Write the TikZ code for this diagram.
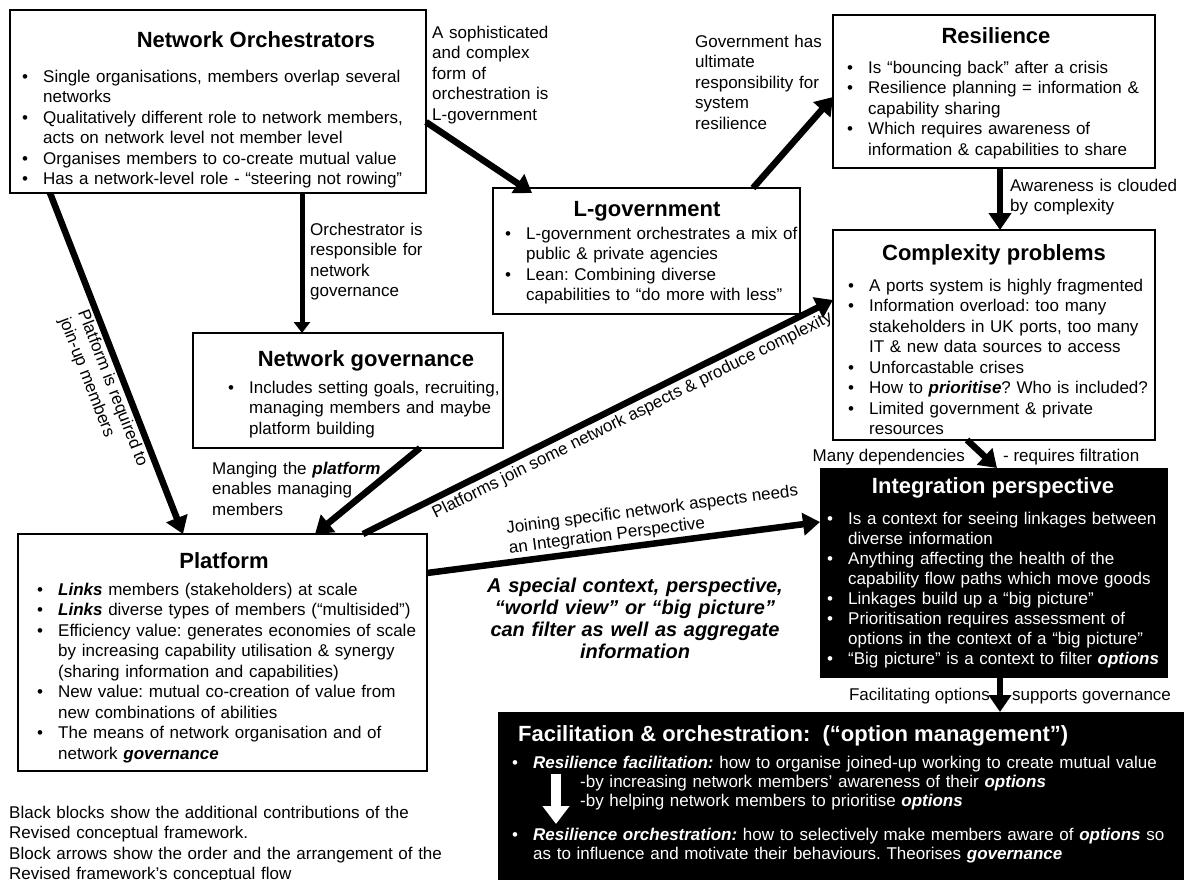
\documentclass[tikz,border=0pt]{standalone}
\usepackage{fontspec}
\setmainfont{Liberation Sans}
\usetikzlibrary{arrows.meta,calc}
\newcommand{\bi}[1]{\hangindent=21pt\hangafter=1\noindent\makebox[21pt][l]{\textbullet}#1\par}
\newcommand{\nl}{\hfil\break}
\newcommand{\bfit}[1]{\textbf{\textit{#1}}}
\frenchspacing
\begin{document}
\begin{tikzpicture}[x=1pt,y=-1pt,
  box/.style={draw=black, line width=1.3pt, fill=white, anchor=north west, inner sep=0pt, outer sep=0pt},
  blkbox/.style={draw=black, fill=black, anchor=north west, inner sep=0pt, outer sep=0pt},
  ttl/.style={font=\fontsize{22}{26}\selectfont\bfseries, anchor=base, inner sep=0pt},
  lst/.style={anchor=base west, inner sep=0pt, text width=700pt, font=\fontsize{17}{20.5}\selectfont},
  lbl/.style={anchor=base west, inner sep=0pt, text width=300pt, align=left, font=\fontsize{17}{20.5}\selectfont},
  slbl/.style={font=\fontsize{17}{20}\selectfont, inner sep=2pt},
  arr/.style={line width=6.5pt, -{Triangle[length=17pt,width=22pt]}},
  arrs/.style={line width=5pt, -{Triangle[length=11pt,width=16pt]}},
  warr/.style={draw=white, line width=10pt, -{Triangle[length=18pt,width=26pt]}}
]
\useasboundingbox (0,0) rectangle (1184,879);
\clip (0,0) rectangle (1184,879);
\fill[white] (0,0) rectangle (1184,879);

% boxes
\node[box, minimum width=416pt, minimum height=183pt] (no) at (10,10) {};
\node[box, minimum width=409pt, minimum height=237pt] (plat) at (18,534) {};
\node[box, minimum width=310pt, minimum height=115pt] (ng) at (193,333) {};
\node[box, minimum width=307pt, minimum height=126pt] (lg) at (493,188) {};
\node[box, minimum width=322pt, minimum height=153pt] (res) at (833,15) {};
\node[box, minimum width=322pt, minimum height=210pt] (comp) at (833,230) {};
\node[blkbox, minimum width=347pt, minimum height=209pt] (int) at (820,468) {};
\node[blkbox, minimum width=700pt, minimum height=180pt] (fac) at (498,712) {};

% Network Orchestrators
\node[ttl] (noT) at (256,47) {Network Orchestrators};
\node[lst] (noL) at (22,82) {\bi{Single organisations, members overlap several\nl networks}
\bi{Qualitatively different role to network members,\nl acts on network level not member level}
\bi{Organises members to co-create mutual value}
\bi{Has a network-level role - “steering not rowing”}};

% Resilience
\node[ttl] (resT) at (996,43) {Resilience};
\node[lst] (resL) at (847,73) {\bi{Is “bouncing back” after a crisis}
\bi{Resilience planning = information \&\nl capability sharing}
\bi{Which requires awareness of\nl information \& capabilities to share}};

% L-government
\node[ttl] (lgT) at (647,216) {L-government};
\node[lst] (lgL) at (505,239) {\bi{L-government orchestrates a mix of\nl public \& private agencies}
\bi{Lean: Combining diverse\nl capabilities to “do more with less”}};

% Complexity
\node[ttl] (compT) at (994,260) {Complexity problems};
\node[lst] (compL) at (848,291) {\bi{A ports system is highly fragmented}
\bi{Information overload: too many\nl stakeholders in UK ports, too many\nl IT \& new data sources to access}
\bi{Unforcastable crises}
\bi{How to \bfit{prioritise}? Who is included?}
\bi{Limited government \& private\nl resources}};

% Network governance
\node[ttl] (ngT) at (366,366) {Network governance};
\node[lst] (ngL) at (228,393) {\bi{Includes setting goals, recruiting,\nl managing members and maybe\nl platform building}};

% Platform
\node[ttl] (platT) at (224,568) {Platform};
\node[lst] (platL) at (37,595) {\bi{\bfit{Links} members (stakeholders) at scale}
\bi{\bfit{Links} diverse types of members (“multisided”)}
\bi{Efficiency value: generates economies of scale\nl by increasing capability utilisation \& synergy\nl (sharing information and capabilities)}
\bi{New value: mutual co-creation of value from\nl new combinations of abilities}
\bi{The means of network organisation and of\nl network \bfit{governance}}};

% Integration perspective
\node[ttl, text=white] (intT) at (993,493) {Integration perspective};
\node[lst, text=white, font=\fontsize{17}{20}\selectfont] (intL) at (827,524) {\bi{Is a context for seeing linkages between\nl diverse information}
\bi{Anything affecting the health of the\nl capability flow paths which move goods}
\bi{Linkages build up a “big picture”}
\bi{Prioritisation requires assessment of\nl options in the context of a “big picture”}
\bi{“Big picture” is a context to filter \bfit{options}}};

% Facilitation
\node[ttl, anchor=base west, text=white] (facT) at (518,741) {Facilitation \& orchestration:\ \ (“option management”)};
\node[lst, text=white, font=\fontsize{17}{19}\selectfont] (facL1) at (512,768) {\bi{\bfit{Resilience facilitation:} how to organise joined-up working to create mutual value}};
\node[lst, text=white, font=\fontsize{17}{19}\selectfont] (facL2) at (580,787) {-by increasing network members’ awareness of their \bfit{options}\nl -by helping network members to prioritise \bfit{options}};
\node[lst, text=white, font=\fontsize{17}{19}\selectfont] (facL3) at (512,840) {\bi{\bfit{Resilience orchestration:} how to selectively make members aware of \bfit{options} so\nl as to influence and motivate their behaviours. Theorises \bfit{governance}}};
\coordinate (wa1) at ($(fac.north west)+(58,62)$);
\coordinate (wa2) at ($(fac.north west)+(58,112)$);
\draw[warr] (wa1) -- (wa2);

% free labels
\node[lbl] (lab1) at (432,38) {A sophisticated\\and complex\\form of\\orchestration is\\L-government};
\node[lbl] (lab2) at (695,47) {Government has\\ultimate\\responsibility for\\system\\resilience};
\node[lbl] (lab3) at (1010,191) {Awareness is clouded\\by complexity};
\node[lbl] (lab4) at (310,235) {Orchestrator is\\responsible for\\network\\governance};
\node[lbl] (lab5) at (212,474) {Manging the \bfit{platform}\\enables managing\\members};
\node[lbl, anchor=base east, text width=] (lab6) at (965,461) {Many dependencies};
\node[lbl, text width=] (lab7) at (1003,461) {- requires filtration};
\node[lbl, anchor=base east, text width=] (lab8) at (990,700) {Facilitating options};
\node[lbl, text width=] (lab9) at (1012,700) {supports governance};
\node[anchor=base, inner sep=0pt, text width=340pt, align=center, font=\fontsize{20}{22}\selectfont\bfseries\itshape] (spec) at (635,592) {A special context, perspective,\\“world view” or “big picture”\\can filter as well as aggregate\\information};
\node[lbl, text width=500pt] (note) at (9,818) {Black blocks show the additional contributions of the\\Revised conceptual framework.\\Block arrows show the order and the arrangement of the\\Revised framework’s conceptual flow};

% connectors
\draw[arr] ($(no.south west)+(40,0)$) -- node[sloped, pos=0.56, below, slbl, align=left]{Platform is required to\\join-up members} ($(plat.north west)+(165,0)$);
\draw[arrs] ($(no.south west)+(292,0)$) -- ($(ng.north west)+(109,0)$);
\draw[arr] ($(ng.south west)+(227,0)$) -- ($(plat.north west)+(297,0)$);
\draw[arr] ($(plat.north west)+(345,0)$) -- node[sloped, pos=0.56, below, slbl, inner sep=3pt]{Platforms join some network aspects \& produce complexity} ($(comp.north west)+(0,70)$);
\draw[arr] ($(plat.north east)+(0,39)$) -- node[sloped, pos=0.2, anchor=south west, slbl, align=left]{Joining specific network aspects needs\\an Integration Perspective} ($(int.north west)+(0,54)$);
\draw[arr] ($(no.north east)+(0,112)$) -- ($(lg.north west)+(39,5)$);
\draw[arr] ($(lg.north west)+(260,0)$) -- ($(res.north west)+(0,82)$);
\draw[arr] ($(res.south west)+(167,0)$) -- ($(comp.north west)+(167,0)$);
\draw[arr] ($(comp.south west)+(134,0)$) -- ($(int.north west)+(177,0)$);
\draw[arr] ($(int.south west)+(180,0)$) -- ($(fac.north west)+(502,0)$);
\end{tikzpicture}
\end{document}
